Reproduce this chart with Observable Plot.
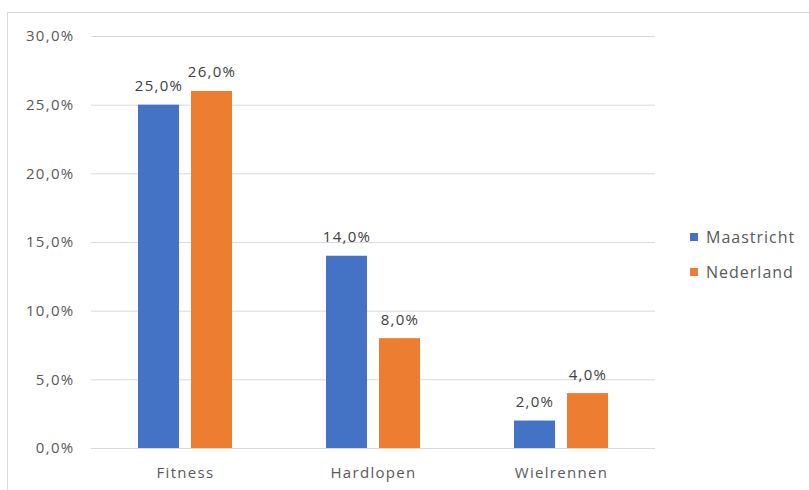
<!DOCTYPE html>
<html>
<head>
<meta charset="utf-8">
<script src="https://cdn.jsdelivr.net/npm/d3@7"></script>
<script src="https://cdn.jsdelivr.net/npm/@observablehq/plot@0.6"></script>
<style>
  html, body { margin: 0; padding: 0; background: #fff; }
  #wrap { position: relative; width: 809px; height: 490px; overflow: hidden; font-family: "Open Sans", "Liberation Sans", sans-serif; }
  #frame { position: absolute; left: 7px; top: 12px; width: 820px; height: 500px; border: 1px solid #d9d9d9; box-sizing: border-box; }
  #chart { position: absolute; left: 0; top: 0; }
  #legend { position: absolute; left: 690px; top: 227px; font-size: 16px; letter-spacing: 1px; color: #595959; }
  .item { display: flex; align-items: center; height: 20px; margin-bottom: 15px; }
  .sw { width: 8px; height: 8px; margin-right: 8px; }
</style>
</head>
<body>
<div id="wrap">
  <div id="frame"></div>
  <div id="chart"></div>
  <div id="legend"></div>
</div>
<script>
const categories = ["Fitness", "Hardlopen", "Wielrennen"];
const series = ["Maastricht", "Nederland"];
const maastricht = [25, 14, 2];
const nederland = [26, 8, 4];
const yTicks = [0, 5, 10, 15, 20, 25, 30];
const colors = ["#4472C4", "#ED7D31"];

const data = [];
categories.forEach((c, i) => {
  data.push({cat: c, series: series[0], value: maastricht[i]});
  data.push({cat: c, series: series[1], value: nederland[i]});
});
const fmt = v => v.toFixed(1).replace(".", ",") + "%";

const chart = Plot.plot({
  width: 809,
  height: 490,
  marginLeft: 90,
  marginRight: 154,
  marginTop: 36,
  marginBottom: 42,
  style: {fontFamily: "'Open Sans', 'Liberation Sans', sans-serif", background: "transparent", letterSpacing: "1.3px"},
  fx: {domain: categories, padding: 0, label: null},
  x: {domain: series, axis: null, paddingInner: 0.222, paddingOuter: 0.852},
  y: {domain: [0, 30], label: null},
  color: {domain: series, range: colors},
  marks: [
    Plot.gridY(yTicks, {stroke: "#d9d9d9", strokeOpacity: 1}),
    Plot.axisY(yTicks, {tickFormat: fmt, tickSize: 0, tickPadding: 17, fontSize: 15, fill: "#595959", label: null}),
    Plot.axisFx({anchor: "bottom", tickSize: 0, tickPadding: 19, fontSize: 15, fill: "#595959", label: null}),
    Plot.barY(data, {fx: "cat", x: "series", y: "value", fill: "series"}),
    Plot.text(data, {fx: "cat", x: "series", y: "value", text: d => fmt(d.value), lineAnchor: "bottom", dy: -14, fontSize: 15, fill: "#404040"})
  ]
});
document.getElementById("chart").appendChild(chart);

const legend = document.getElementById("legend");
series.forEach((s, i) => {
  const it = document.createElement("div");
  it.className = "item";
  it.innerHTML = `<div class="sw" style="background:${colors[i]}"></div><span>${s}</span>`;
  legend.appendChild(it);
});
</script>
</body>
</html>
